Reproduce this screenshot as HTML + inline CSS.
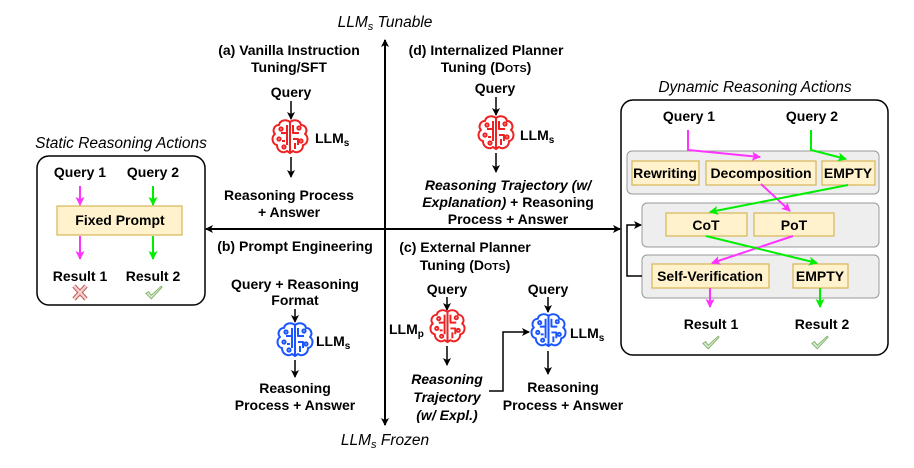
<!DOCTYPE html>
<html><head><meta charset="utf-8"><style>
body{margin:0;background:#fff}
svg{display:block}
text{font-family:"Liberation Sans",Arial,sans-serif;font-size:14px;font-weight:bold;fill:#000}
.i{font-style:italic}
.n{font-weight:normal}
.c{text-anchor:middle}
.t{font-size:15.5px}
</style></head><body>
<svg width="914" height="468" viewBox="0 0 914 468" xmlns="http://www.w3.org/2000/svg">
<defs>
<marker id="ak" markerWidth="8" markerHeight="8" refX="7" refY="4" orient="auto" markerUnits="userSpaceOnUse"><path d="M0,0 L8,4 L0,8 L2,4z" fill="#000"/></marker>
<marker id="am" markerWidth="9" markerHeight="9" refX="8" refY="4.5" orient="auto" markerUnits="userSpaceOnUse"><path d="M0,0 L9,4.5 L0,9 L2,4.5z" fill="#ff33ff"/></marker>
<marker id="ag" markerWidth="9" markerHeight="9" refX="8" refY="4.5" orient="auto" markerUnits="userSpaceOnUse"><path d="M0,0 L9,4.5 L0,9 L2,4.5z" fill="#00ee00"/></marker>
<symbol id="brain" viewBox="-20 -20 40 40">
<g fill="none" stroke="currentColor" stroke-width="2" stroke-linejoin="round">
<path d="M0,-15 C-4,-18 -10,-17 -11,-12 C-16,-12 -18,-6 -15,-3 C-19,0 -18,7 -13,8 C-13,14 -7,17 -3,14 L0,16 Z"/>
<path d="M0,-15 C4,-18 10,-17 11,-12 C16,-12 18,-6 15,-3 C19,0 18,7 13,8 C13,14 7,17 3,14 L0,16 Z"/>
<path d="M-3,-12 V8 M-3,-4 H-9 M-8,4 L-5,4 M3,-12 V-4 H9 M3,2 H8 V8 M5,12 L5,6"/>
<circle cx="-9" cy="-8" r="1.6"/><circle cx="-11" cy="2" r="1.6"/><circle cx="9" cy="-9" r="1.6"/><circle cx="11" cy="4" r="1.6"/><circle cx="-6" cy="10" r="1.6"/>
</g></symbol>
<symbol id="chk" viewBox="0 0 20 16"><path d="M1,9 L4,7 L7,11 L18,1 L19,2 L7,15 Z" fill="#d5e8d4" stroke="#82b366" stroke-width="1"/></symbol>
</defs>

<line x1="385" y1="40" x2="385" y2="425" stroke="#000" stroke-width="2" marker-end="url(#ak)"/>
<line x1="385" y1="425" x2="385" y2="40" stroke="#000" stroke-width="2" marker-end="url(#ak)"/>
<line x1="385" y1="229" x2="206" y2="229" stroke="#000" stroke-width="2" marker-end="url(#ak)"/>
<line x1="385" y1="229" x2="620" y2="229" stroke="#000" stroke-width="2" marker-end="url(#ak)"/>
<text x="385" y="27" class="c i n t">LLM<tspan font-size="11" dy="3">s</tspan><tspan dy="-3"> Tunable</tspan></text>
<text x="385" y="445" class="c i n t">LLM<tspan font-size="11" dy="3">s</tspan><tspan dy="-3"> Frozen</tspan></text>

<text x="121" y="148" class="c i n t">Static Reasoning Actions</text>
<rect x="37" y="156" width="168" height="149" rx="12" fill="none" stroke="#000" stroke-width="1.5"/>
<text x="80" y="177" class="c">Query 1</text><text x="153" y="177" class="c">Query 2</text>
<line x1="80" y1="186" x2="80" y2="205" stroke="#ff33ff" stroke-width="2" marker-end="url(#am)"/>
<line x1="153" y1="186" x2="153" y2="205" stroke="#00ee00" stroke-width="2" marker-end="url(#ag)"/>
<rect x="57" y="206" width="125" height="29" fill="#fff2cc" stroke="#d6b656" stroke-width="1.2"/>
<text x="120" y="225" class="c">Fixed Prompt</text>
<line x1="80" y1="236" x2="80" y2="259" stroke="#ff33ff" stroke-width="2" marker-end="url(#am)"/>
<line x1="153" y1="236" x2="153" y2="259" stroke="#00ee00" stroke-width="2" marker-end="url(#ag)"/>
<text x="80" y="281" class="c">Result 1</text><text x="153" y="281" class="c">Result 2</text>
<path d="M74,286 L86,299 M86,286 L74,299" stroke="#b85450" stroke-width="4.5"/><path d="M74,286 L86,299 M86,286 L74,299" stroke="#f8cecc" stroke-width="2.5"/>
<use href="#chk" x="145" y="285" width="18" height="15"/>

<text x="289" y="55" class="c">(a) Vanilla Instruction</text>
<text x="289" y="72" class="c">Tuning/SFT</text>
<text x="291" y="97" class="c">Query</text>
<line x1="291" y1="101" x2="291" y2="119" stroke="#000" stroke-width="1.5" marker-end="url(#ak)"/>
<use href="#brain" x="269" y="117" width="42" height="40" style="color:#ee2222"/>
<text x="315" y="143">LLM<tspan font-size="10" dy="3">s</tspan></text>
<line x1="291" y1="157" x2="291" y2="177" stroke="#000" stroke-width="1.5" marker-end="url(#ak)"/>
<text x="289" y="200" class="c">Reasoning Process</text>
<text x="289" y="217" class="c">+ Answer</text>

<text x="486" y="55" class="c">(d) Internalized Planner</text>
<text x="486" y="72" class="c">Tuning (D<tspan font-size="10.5">OTS</tspan>)</text>
<text x="495" y="93" class="c">Query</text>
<line x1="496" y1="97" x2="496" y2="115" stroke="#000" stroke-width="1.5" marker-end="url(#ak)"/>
<use href="#brain" x="475" y="113" width="42" height="40" style="color:#ee2222"/>
<text x="520" y="140">LLM<tspan font-size="10" dy="3">s</tspan></text>
<line x1="496" y1="153" x2="496" y2="172" stroke="#000" stroke-width="1.5" marker-end="url(#ak)"/>
<text x="508" y="190" class="c i">Reasoning Trajectory (w/</text>
<text x="508" y="207" class="c"><tspan class="i">Explanation)</tspan> + Reasoning</text>
<text x="508" y="224" class="c">Process + Answer</text>

<text x="295" y="251" class="c">(b) Prompt Engineering</text>
<text x="295" y="289" class="c">Query + Reasoning</text>
<text x="295" y="305" class="c">Format</text>
<line x1="295" y1="309" x2="295" y2="322" stroke="#000" stroke-width="1.5" marker-end="url(#ak)"/>
<use href="#brain" x="274" y="320" width="42" height="40" style="color:#1a55ff"/>
<text x="316" y="346">LLM<tspan font-size="10" dy="3">s</tspan></text>
<line x1="295" y1="360" x2="295" y2="377" stroke="#000" stroke-width="1.5" marker-end="url(#ak)"/>
<text x="295" y="393" class="c">Reasoning</text>
<text x="295" y="410" class="c">Process + Answer</text>

<text x="465" y="252" class="c">(c) External Planner</text>
<text x="465" y="270" class="c">Tuning (D<tspan font-size="10.5">OTS</tspan>)</text>
<text x="447" y="294" class="c">Query</text>
<line x1="447" y1="297" x2="447" y2="310" stroke="#000" stroke-width="1.5" marker-end="url(#ak)"/>
<use href="#brain" x="427" y="307" width="41" height="39" style="color:#ee2222"/>
<text x="389" y="334">LLM<tspan font-size="10" dy="3">p</tspan></text>
<line x1="447" y1="346" x2="447" y2="365" stroke="#000" stroke-width="1.5" marker-end="url(#ak)"/>
<text x="447" y="384" class="c i">Reasoning</text>
<text x="447" y="402" class="c i">Trajectory</text>
<text x="447" y="420" class="c i">(w/ Expl.)</text>
<text x="548" y="294" class="c">Query</text>
<line x1="548" y1="297" x2="548" y2="312" stroke="#000" stroke-width="1.5" marker-end="url(#ak)"/>
<use href="#brain" x="528" y="311" width="41" height="39" style="color:#1a55ff"/>
<text x="570" y="338">LLM<tspan font-size="10" dy="3">s</tspan></text>
<line x1="548" y1="351" x2="548" y2="374" stroke="#000" stroke-width="1.5" marker-end="url(#ak)"/>
<text x="563" y="392" class="c">Reasoning</text>
<text x="563" y="410" class="c">Process + Answer</text>
<polyline points="489,391 503,391 503,332 529,332" fill="none" stroke="#000" stroke-width="1.5" marker-end="url(#ak)"/>

<text x="755" y="92" class="c i n t">Dynamic Reasoning Actions</text>
<rect x="621" y="100" width="267" height="255" rx="12" fill="none" stroke="#000" stroke-width="1.5"/>
<text x="689" y="121" class="c">Query 1</text><text x="812" y="121" class="c">Query 2</text>
<rect x="627" y="151" width="252" height="43" rx="5" fill="#eeeeee" stroke="#999" stroke-width="1"/>
<rect x="642" y="203" width="237" height="44" rx="5" fill="#eeeeee" stroke="#999" stroke-width="1"/>
<rect x="642" y="255" width="237" height="43" rx="5" fill="#eeeeee" stroke="#999" stroke-width="1"/>
<g fill="#fff2cc" stroke="#d6b656" stroke-width="1.2">
<rect x="632" y="161" width="67" height="24"/><rect x="706" y="161" width="110" height="24"/><rect x="822" y="161" width="53" height="24"/>
<rect x="666" y="213" width="81" height="23"/><rect x="754" y="213" width="80" height="23"/>
<rect x="652" y="264" width="117" height="24"/><rect x="793" y="264" width="55" height="24"/>
</g>
<text x="665" y="178" class="c">Rewriting</text><text x="761" y="178" class="c">Decomposition</text><text x="848" y="178" class="c">EMPTY</text>
<text x="706" y="230" class="c">CoT</text><text x="794" y="230" class="c">PoT</text>
<text x="710" y="281" class="c">Self-Verification</text><text x="820" y="281" class="c">EMPTY</text>
<g fill="none" stroke-width="2">
<polyline points="688,130 688,150 760,157" stroke="#ff33ff" marker-end="url(#am)"/>
<line x1="761" y1="184" x2="790" y2="211" stroke="#ff33ff" marker-end="url(#am)"/>
<line x1="793" y1="236" x2="712" y2="263" stroke="#ff33ff" marker-end="url(#am)"/>
<line x1="710" y1="288" x2="710" y2="307" stroke="#ff33ff" marker-end="url(#am)"/>
<polyline points="811,130 811,150 846,159" stroke="#00ee00" marker-end="url(#ag)"/>
<line x1="848" y1="185" x2="710" y2="212" stroke="#00ee00" marker-end="url(#ag)"/>
<line x1="706" y1="236" x2="817" y2="263" stroke="#00ee00" marker-end="url(#ag)"/>
<line x1="820" y1="288" x2="820" y2="307" stroke="#00ee00" marker-end="url(#ag)"/>
</g>
<polyline points="642,276 627,276 627,225 641,225" fill="none" stroke="#000" stroke-width="1.5" marker-end="url(#ak)"/>
<text x="711" y="329" class="c">Result 1</text><text x="822" y="329" class="c">Result 2</text>
<use href="#chk" x="702" y="335" width="18" height="15"/>
<use href="#chk" x="811" y="335" width="18" height="15"/>
</svg>
</body></html>
